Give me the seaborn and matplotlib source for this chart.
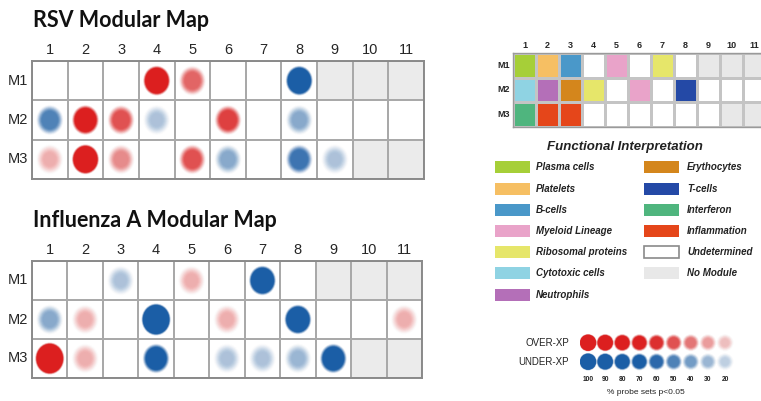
import numpy as np
import pandas as pd
import matplotlib
matplotlib.use("Agg")
import matplotlib.pyplot as plt
from matplotlib.colors import ListedColormap
from matplotlib.patches import Ellipse, Rectangle
import seaborn as sns

sns.set_theme(style="white")
plt.rcParams['font.family'] = ['Liberation Sans', 'DejaVu Sans']

# ---- data ----
cols = [str(i) for i in range(1, 12)]
rows = ['M1', 'M2', 'M3']

# signed % of probe sets p<0.05 (positive = over-expressed, negative = under-expressed)
rsv = [
    [0, 0, 0, 90, 45, 0, 0, -90, 0, 0, 0],
    [-50, 80, 50, -25, 0, 55, 0, -35, 0, 0, 0],
    [25, 95, 35, 0, 50, -35, 0, -55, -25, 0, 0],
]
flu = [
    [0, 0, -25, 0, 25, 0, -90, 0, 0, 0, 0],
    [-35, 25, 0, -100, 0, 25, 0, -90, 0, 0, 25],
    [100, 25, 0, -75, 0, -25, -25, -30, -80, 0, 0],
]

key = [
    ['Plasma cells', 'Platelets', 'B-cells', 'Undetermined', 'Myeloid Lineage', 'Undetermined',
     'Ribosomal proteins', 'Undetermined', 'No Module', 'No Module', 'No Module'],
    ['Cytotoxic cells', 'Neutrophils', 'Erythocytes', 'Ribosomal proteins', 'Undetermined',
     'Myeloid Lineage', 'Undetermined', 'T-cells', 'Undetermined', 'Undetermined', 'Undetermined'],
    ['Interferon', 'Inflammation', 'Inflammation', 'Undetermined', 'Undetermined', 'Undetermined',
     'Undetermined', 'Undetermined', 'Undetermined', 'No Module', 'No Module'],
]

left_labels = ['Plasma cells', 'Platelets', 'B-cells', 'Myeloid Lineage',
               'Ribosomal proteins', 'Cytotoxic cells', 'Neutrophils']
right_labels = ['Erythocytes', 'T-cells', 'Interferon', 'Inflammation',
                'Undetermined', 'No Module']
func_colors = {
    'Plasma cells': '#a6cf38', 'Platelets': '#f6bf63', 'B-cells': '#4a98c9',
    'Myeloid Lineage': '#e9a3c9', 'Ribosomal proteins': '#e6e66a',
    'Cytotoxic cells': '#8fd3e3', 'Neutrophils': '#b46fb8',
    'Erythocytes': '#d4861c', 'T-cells': '#2449a6', 'Interferon': '#4fb57e',
    'Inflammation': '#e5461a', 'Undetermined': '#ffffff', 'No Module': '#e8e8e8',
}

scale_vals = [100, 90, 80, 70, 60, 50, 40, 30, 20]
scale_rows = ['OVER-XP', 'UNDER-XP']

RED = '#dc1f1f'
BLUE = '#1b5ea6'
W, H = 761, 401

fig = plt.figure(figsize=(W / 100, H / 100), dpi=100)


def px_axes(l, t, r, b):
    return fig.add_axes([l / W, 1 - b / H, (r - l) / W, (b - t) / H])


def blob(ax, x, y, v, w, h, n=18):
    # soft-edged circle: stacked translucent ellipses, opacity ramps up towards the centre
    if v == 0:
        return
    col = RED if v > 0 else BLUE
    a = abs(v)
    peak = np.clip((a - 5) / 60, 0.2, 1.0)
    blur = np.clip(0.75 - 0.6 * a / 100, 0.15, 0.62)
    t = np.linspace(0, 1, n + 1)[1:]
    target = peak * (3 * t ** 2 - 2 * t ** 3)
    prev = 0.0
    for f, A in zip(np.linspace(1.0, 1.0 - blur, n), target):
        la = (A - prev) / (1 - prev) if prev < 1 else 0
        prev = A
        ax.add_patch(Ellipse((x, y), w * f, h * f, facecolor=col, alpha=min(max(la, 0), 1), lw=0))


# ---- overlay axes for legend layout ----
ov = fig.add_axes([0, 0, 1, 1])
ov.set_xlim(0, W)
ov.set_ylim(H, 0)
ov.axis('off')

nomod = np.array([[1 if c == 'No Module' else 0 for c in r] for r in key])


def modmap(vals, box, title, title_y):
    ax = px_axes(*box)
    bg = pd.DataFrame(nomod, index=rows, columns=cols)
    sns.heatmap(bg, cmap=ListedColormap(['white', '#ebebeb']), vmin=0, vmax=1, cbar=False,
                linewidths=1.1, linecolor='#a9a9a9', ax=ax)
    for s in ax.spines.values():
        s.set_visible(True)
        s.set_color('#8a8a8a')
        s.set_linewidth(1.4)
    ax.xaxis.tick_top()
    ax.tick_params(length=0, pad=3, labelsize=10.5)
    ax.set_yticklabels(rows, rotation=0)
    ax.set_xticklabels(cols, rotation=0)
    for i, r in enumerate(vals):
        for j, v in enumerate(r):
            s = 0.84 if abs(v) >= 100 else 0.78
            blob(ax, j + 0.5, i + 0.5, v, s, s)
    fig.text(33 / W, 1 - title_y / H, title, fontsize=15.5, fontweight='bold',
             family=['Lato', 'DejaVu Sans'], va='baseline', color='#111111')
    return ax


modmap(rsv, (32, 61, 424, 179), 'RSV Modular Map', 27)
modmap(flu, (32, 261, 422, 378), 'Influenza A Modular Map', 227)

# ---- module key grid ----
cats = list(func_colors.keys())
kidx = pd.DataFrame([[cats.index(c) for c in r] for r in key], index=rows, columns=cols)
axk = px_axes(513, 53, 766, 127)
sns.heatmap(kidx, cmap=ListedColormap([func_colors[c] for c in cats]), vmin=-0.5,
            vmax=len(cats) - 0.5, cbar=False, linewidths=0.9, linecolor='#c4c4c4', ax=axk)
for s in axk.spines.values():
    s.set_visible(True)
    s.set_color('#9a9a9a')
    s.set_linewidth(1.0)
axk.xaxis.tick_top()
axk.tick_params(length=0, pad=2, labelsize=6.5)
axk.set_yticklabels(rows, rotation=0, fontweight='bold')
axk.set_xticklabels(cols, rotation=0, fontweight='bold')

# ---- functional interpretation legend ----
ov.text(625, 147, 'Functional Interpretation', ha='center', va='center', fontsize=9.5,
        fontweight='bold', style='italic', color='#222222')
y0, dy = 167.3, 21.2
for k, lab in enumerate(left_labels):
    y = y0 + k * dy
    ov.add_patch(Rectangle((495, y - 6), 35, 12, facecolor=func_colors[lab], lw=0))
    ov.text(536, y, lab, va='center', fontsize=7, fontweight='bold', style='italic', color='#222222')
for k, lab in enumerate(right_labels):
    y = y0 + k * dy
    ec = '#8a8a8a' if lab == 'Undetermined' else 'none'
    ov.add_patch(Rectangle((644, y - 6), 35, 12, facecolor=func_colors[lab], edgecolor=ec, lw=1.2))
    ov.text(687, y, lab, va='center', fontsize=7, fontweight='bold', style='italic', color='#222222')

# ---- intensity scale legend ----
axs = px_axes(579.5, 333.2, 733.6, 371.2)
axs.set_xlim(0, len(scale_vals))
axs.set_ylim(2, 0)
axs.axis('off')
for i, sign in enumerate([1, -1]):
    for j, v in enumerate(scale_vals):
        blob(axs, j + 0.5, i + 0.5, sign * v, 1.04, 0.94)
    axs.text(-0.6, i + 0.5, scale_rows[i], ha='right', va='center', fontsize=7, color='#222222')
for j, v in enumerate(scale_vals):
    axs.text(j + 0.5, 2.45, str(v), ha='center', va='center', fontsize=4.8, fontweight='bold',
             color='#222222', clip_on=False)
ov.text(646, 392, '% probe sets p<0.05', ha='center', va='center', fontsize=6, color='#222222')

fig.savefig('out.png', dpi=100)
